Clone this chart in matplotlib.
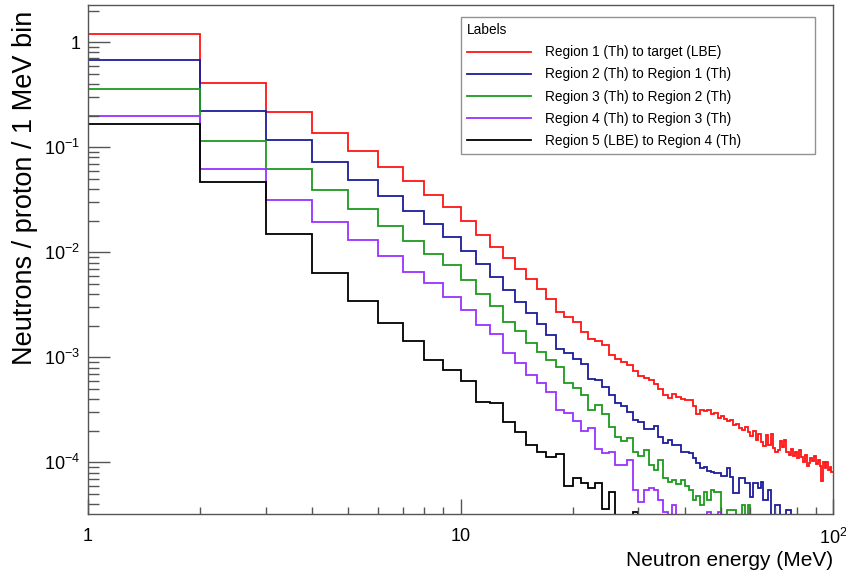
import numpy as np
import matplotlib
matplotlib.use("Agg")
import matplotlib.pyplot as plt
from matplotlib.lines import Line2D
from matplotlib.ticker import FixedLocator, FixedFormatter, LogLocator, NullFormatter

plt.rcParams['font.family'] = ['Liberation Sans', 'DejaVu Sans']
plt.rcParams['mathtext.fontset'] = 'custom'
plt.rcParams['mathtext.rm'] = 'Liberation Sans'
plt.rcParams['mathtext.it'] = 'Liberation Sans:italic'
plt.rcParams['mathtext.bf'] = 'Liberation Sans:bold'

# ---- data: 1 MeV bins from 1 to 100 MeV ----
bin_edges = np.arange(1, 101)

labels = ["Region 1 (Th) to target (LBE)",
          "Region 2 (Th) to Region 1 (Th)",
          "Region 3 (Th) to Region 2 (Th)",
          "Region 4 (Th) to Region 3 (Th)",
          "Region 5 (LBE) to Region 4 (Th)"]
colors = ["#ff1414", "#1c1c9c", "#1e9a1e", "#9a30ff", "#000000"]

region1 = [1.20, 0.411, 0.216, 0.137, 0.0926, 0.0652, 0.0480, 0.0355, 0.0268, 0.0200,
           0.01468, 0.01136, 0.00892, 0.00697, 0.00556, 0.00449, 0.00361, 0.00273, 0.00243, 0.00216,
           0.00174, 0.00150, 0.00143, 0.00132, 0.00106, 0.000968, 0.000906, 0.000849, 0.000744, 0.000667,
           0.000638, 0.000611, 0.000560, 0.000502, 0.000440, 0.000411, 0.000449, 0.000420, 0.000402, 0.000394,
           0.000394, 0.000346, 0.000290, 0.000316, 0.000310, 0.000316, 0.000290,
           2.97e-4, 2.65e-4, 2.78e-4,
           2.59e-4, 2.48e-4, 2.54e-4, 2.28e-4, 2.33e-4, 2.13e-4, 2.04e-4, 2.18e-4, 1.95e-4, 1.78e-4,
           1.99e-4, 1.64e-4, 1.87e-4, 1.57e-4, 1.44e-4, 1.83e-4, 1.47e-4, 1.87e-4, 1.37e-4, 1.26e-4,
           1.32e-4, 1.60e-4, 1.40e-4, 1.64e-4, 1.26e-4, 1.18e-4, 1.34e-4, 1.15e-4, 1.26e-4, 1.10e-4,
           1.32e-4, 1.13e-4, 1.01e-4, 1.18e-4, 0.93e-4, 0.99e-4, 1.10e-4, 1.03e-4, 1.15e-4, 0.97e-4,
           1.06e-4, 0.93e-4, 0.67e-4, 1.01e-4, 0.89e-4, 1.01e-4, 0.85e-4, 0.91e-4, 0.81e-4]

region2 = [0.681, 0.223, 0.117, 0.0723, 0.0490, 0.0340, 0.0245, 0.0186, 0.0139, 0.01033,
           0.00773, 0.00581, 0.00440, 0.00333, 0.00264, 0.00208, 0.00163, 0.00120, 0.00111, 0.000975,
           0.000867, 0.000624, 0.000611, 0.000528, 0.000440, 0.000366, 0.000341, 0.000305, 0.000254, 0.000244,
           0.000207, 0.000207, 0.000220, 0.000176, 0.000152, 0.000164, 0.000147, 0.000147, 0.000127, 0.000127,
           0.000122, 0.000110, 0.000098, 0.000088, 0.000091, 0.000082, 0.000081, 0.000079, 0.000079, 0.000074,
           0.000074, 0.000089, 0.000073, 0.000051, 0.000051, 0.000071, 0.000071, 0.000064, 0.000064, 0.000047,
           0.000064, 0.000064, 0.000057, 0.000065, 0.000044, 0.000044, 0.000055, 0.0, 0.0, 0.000039,
           0.000039, 0.0, 0.0, 0.0, 0.000035, 0.000035, 0.0, 0.0, 0.0, 0.0,
           0.0, 0.0, 0.0, 0.0, 0.0, 0.0, 0.0, 0.0, 0.0, 0.0,
           0.0, 0.0, 0.0, 0.0, 0.0, 0.0, 0.0, 0.0, 0.0]

region3 = [0.361, 0.115, 0.0627, 0.0388, 0.0261, 0.0180, 0.0129, 0.00968, 0.00752, 0.00541,
           0.00403, 0.00309, 0.00219, 0.00179, 0.00136, 0.00113, 0.000946, 0.000807, 0.000568, 0.000509,
           0.000440, 0.000316, 0.000351, 0.000290, 0.000218, 0.000175, 0.000160, 0.000171, 0.000126, 0.000115,
           0.000132, 0.0000946, 0.000085, 0.000106, 0.000071, 0.000065, 0.000068, 0.000062, 0.000068, 0.000060,
           0.000055, 0.000044, 0.000048, 0.000039, 0.000052, 0.000044, 0.000055, 0.000052, 0.000052, 0.0,
           0.0, 0.000035, 0.000035, 0.000035, 0.0, 0.0, 0.000039, 0.0, 0.000039, 0.0,
           0.0, 0.0, 0.0, 0.0, 0.0, 0.0, 0.0, 0.0, 0.0, 0.0,
           0.0, 0.0, 0.0, 0.0, 0.0, 0.0, 0.0, 0.0, 0.0, 0.0,
           0.0, 0.0, 0.0, 0.0, 0.0, 0.0, 0.0, 0.0, 0.0, 0.0,
           0.0, 0.0, 0.0, 0.0, 0.0, 0.0, 0.0, 0.0, 0.0]

region4 = [0.197, 0.0623, 0.0317, 0.0195, 0.01324, 0.00926, 0.00648, 0.00513, 0.00373, 0.00282,
           0.00204, 0.00166, 0.00109, 0.000887, 0.000681, 0.000575, 0.000466, 0.000318, 0.000298, 0.000248,
           0.000201, 0.000212, 0.000134, 0.000122, 0.000126, 0.0000947, 0.0000947, 0.000106, 0.0000547, 0.000042,
           0.0000547, 0.0000571, 0.0000547, 0.0000439, 0.0000338, 0.0, 0.0000394, 0.0, 0.0, 0.0,
           0.0, 0.0, 0.0, 0.0, 0.0, 0.000034, 0.0, 0.0, 0.000034, 0.0,
           0.0, 0.0, 0.0, 0.0, 0.0, 0.0, 0.0, 0.0, 0.0, 0.0,
           0.0, 0.0, 0.0, 0.0, 0.0, 0.0, 0.0, 0.0, 0.0, 0.0,
           0.0, 0.0, 0.0, 0.0, 0.0, 0.0, 0.0, 0.0, 0.0, 0.0,
           0.0, 0.0, 0.0, 0.0, 0.0, 0.0, 0.0, 0.0, 0.0, 0.0,
           0.0, 0.0, 0.0, 0.0, 0.0, 0.0, 0.0, 0.0, 0.0]

region5 = [0.167, 0.0463, 0.0148, 0.00638, 0.00343, 0.00214, 0.00143, 0.000946, 0.000752, 0.000597,
           0.000374, 0.000366, 0.000241, 0.000195, 0.000146, 0.000125, 0.000113, 0.000121, 0.0000597, 0.0000708,
           0.0000643, 0.0000575, 0.0000643, 0.000036, 0.0000527, 0.0, 0.0, 0.0, 0.000034, 0.0,
           0.0, 0.0, 0.0, 0.0, 0.0, 0.0, 0.0, 0.0, 0.0, 0.0,
           0.0, 0.0, 0.0, 0.0, 0.0, 0.0, 0.0, 0.0, 0.0, 0.0,
           0.0, 0.0, 0.0, 0.0, 0.0, 0.0, 0.0, 0.0, 0.0, 0.0,
           0.0, 0.0, 0.0, 0.0, 0.0, 0.0, 0.0, 0.0, 0.0, 0.0,
           0.0, 0.0, 0.0, 0.0, 0.0, 0.0, 0.0, 0.0, 0.0, 0.0,
           0.0, 0.0, 0.0, 0.0, 0.0, 0.0, 0.0, 0.0, 0.0, 0.0,
           0.0, 0.0, 0.0, 0.0, 0.0, 0.0, 0.0, 0.0, 0.0]

x_ticks = [1, 10, 100]
x_ticklabels = ['1', '10', r'$10^{2}$']
y_ticks = [1e-4, 1e-3, 1e-2, 1e-1, 1]
y_ticklabels = [r'$10^{-4}$', r'$10^{-3}$', r'$10^{-2}$', r'$10^{-1}$', '1']

# ---- figure ----
W, H = 846, 576
fig = plt.figure(figsize=(W / 100, H / 100), dpi=100)
ax = fig.add_axes([88 / W, 62 / H, 745 / W, 509 / H])

series = [region1, region2, region3, region4, region5]
for vals, c in zip(series, colors):
    v = np.asarray(vals, dtype=float)
    assert len(v) == len(bin_edges) - 1
    v = np.where(v > 0, v, 1e-9)  # empty bins drop to the bottom of the frame
    ax.stairs(v, bin_edges, color=c, lw=1.3, baseline=None)

ax.set_xscale('log')
ax.set_yscale('log')
ax.set_xlim(1, 100)
ax.set_ylim(3.23e-5, 2.26)

ax.xaxis.set_major_locator(FixedLocator(x_ticks))
ax.xaxis.set_major_formatter(FixedFormatter(x_ticklabels))
ax.xaxis.set_minor_locator(LogLocator(base=10, subs=np.arange(2, 10), numticks=20))
ax.xaxis.set_minor_formatter(NullFormatter())
ax.yaxis.set_major_locator(FixedLocator(y_ticks))
ax.yaxis.set_major_formatter(FixedFormatter(y_ticklabels))
ax.yaxis.set_minor_locator(LogLocator(base=10, subs=np.arange(2, 10), numticks=20))
ax.yaxis.set_minor_formatter(NullFormatter())

axis_col = '#555555'
for s in ax.spines.values():
    s.set_color(axis_col)
    s.set_linewidth(1.0)
ax.tick_params(which='both', direction='in', top=False, right=False, colors=axis_col,
               labelcolor='black', width=1.0)
ax.tick_params(axis='y', which='major', length=15.8, pad=5.5, labelsize=13)
ax.tick_params(axis='y', which='minor', length=7.9)
ax.tick_params(axis='x', which='major', length=10.8, pad=10, labelsize=13)
ax.tick_params(axis='x', which='minor', length=5.4)

fig.text(25 / W, 1 - 11 / H, 'Neutrons / proton / 1 MeV bin', rotation=90,
         ha='center', va='top', fontsize=19.5)
fig.text(833 / W, 1 - 560 / H, 'Neutron energy (MeV)', ha='right', va='center',
         fontsize=15)

handles = [Line2D([], [], color=c, lw=1.3) for c in colors]
leg = fig.legend(handles, labels, loc='upper left',
                 bbox_to_anchor=(461 / W, 1 - 17 / H, 354 / W, 0),
                 bbox_transform=fig.transFigure, mode='expand', borderaxespad=0,
                 title='Labels', alignment='left', fontsize=9.8, title_fontsize=9.8,
                 frameon=True, fancybox=False, shadow=False, edgecolor='#777777',
                 handlelength=4.7, handletextpad=1.0, labelspacing=0.6, borderpad=0.45)
leg.get_frame().set_linewidth(1.0)

fig.savefig('out.png', dpi=100)
